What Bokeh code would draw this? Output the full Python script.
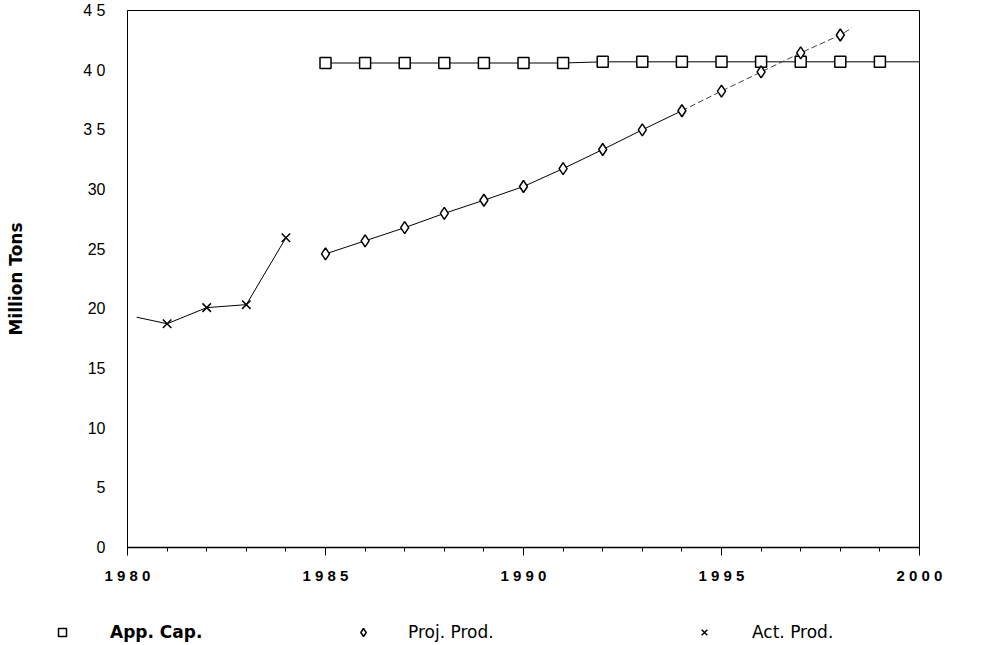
from bokeh.plotting import figure
from bokeh.layouts import column
from bokeh.models import Legend, LegendItem, FixedTicker, Range1d
from bokeh.embed import file_html
from bokeh.resources import INLINE

# ---- data ----
series_names = ["App. Cap.", "Proj. Prod.", "Act. Prod."]

cap_years = [1985, 1986, 1987, 1988, 1989, 1990, 1991, 1992, 1993, 1994,
             1995, 1996, 1997, 1998, 1999, 2000]
cap_vals = [40.6, 40.6, 40.6, 40.6, 40.6, 40.6, 40.6, 40.7, 40.7, 40.7,
            40.7, 40.7, 40.7, 40.7, 40.7, 40.7]

proj_years = [1985, 1986, 1987, 1988, 1989, 1990, 1991, 1992, 1993, 1994,
              1995, 1996, 1997, 1998]
proj_vals = [24.6, 25.7, 26.8, 28.0, 29.1, 30.25, 31.75, 33.35, 35.0, 36.6,
             38.25, 39.85, 41.45, 42.95]
proj_tail_year = 1998.3
proj_tail_val = 43.55

act_years = [1980.23, 1981, 1982, 1983, 1984]
act_vals = [19.3, 18.75, 20.1, 20.35, 25.95]

y_ticks = [0, 5, 10, 15, 20, 25, 30, 35, 40, 45]
y_tick_labels = ["0", "5", "10", "15", "20", "25", "30", "3 5", "4 0", "4 5"]
x_ticks = [1980, 1985, 1990, 1995, 2000]
x_tick_labels = ["1 9 8 0", "1 9 8 5", "1 9 9 0", "1 9 9 5", "2 0 0 0"]
y_title = "Million Tons"

W = 985

# ---- main figure ----
p = figure(width=W, height=598, output_backend="svg", toolbar_location=None,
           x_range=Range1d(x_ticks[0], x_ticks[-1]), y_range=Range1d(y_ticks[0], y_ticks[-1]),
           min_border_left=127, min_border_right=W - 919, min_border_top=10, min_border_bottom=51)
p.frame_align = False
p.background_fill_color = "white"
p.border_fill_color = "white"
p.outline_line_color = "black"
p.outline_line_width = 1
p.outline_line_alpha = 1
p.xgrid.visible = False
p.ygrid.visible = False

# y axis
p.yaxis.ticker = FixedTicker(ticks=y_ticks)
p.yaxis.major_label_overrides = {t: l for t, l in zip(y_ticks, y_tick_labels)}
p.yaxis.major_tick_out = 0
p.yaxis.major_tick_in = 0
p.yaxis.minor_tick_out = 0
p.yaxis.minor_tick_in = 0
p.yaxis.major_label_standoff = 22
p.yaxis.major_label_text_font = "Liberation Sans"
p.yaxis.major_label_text_font_size = "16px"
p.yaxis.major_label_text_color = "black"
p.yaxis.axis_line_color = "black"
p.yaxis.axis_label = y_title
p.yaxis.axis_label_text_font = "DejaVu Sans"
p.yaxis.axis_label_text_font_style = "bold"
p.yaxis.axis_label_text_font_size = "17px"
p.yaxis.axis_label_text_color = "black"
p.yaxis.axis_label_standoff = 54

# x axis
p.xaxis.ticker = FixedTicker(ticks=x_ticks, minor_ticks=list(range(x_ticks[0], x_ticks[-1] + 1)))
p.xaxis.major_label_overrides = {t: l for t, l in zip(x_ticks, x_tick_labels)}
p.xaxis.major_tick_out = 8
p.xaxis.major_tick_in = 0
p.xaxis.minor_tick_out = 4
p.xaxis.minor_tick_in = 0
p.xaxis.major_tick_line_color = "black"
p.xaxis.minor_tick_line_color = "black"
p.xaxis.axis_line_color = "black"
p.xaxis.axis_line_width = 1.5
p.xaxis.major_label_standoff = 11
p.xaxis.major_label_text_font = "Liberation Sans"
p.xaxis.major_label_text_font_style = "bold"
p.xaxis.major_label_text_font_size = "15px"
p.xaxis.major_label_text_color = "black"

# ---- series ----
mk = dict(fill_color="white", line_color="black", line_width=1.5)

# App. Cap.
p.line(cap_years, cap_vals, line_color="black", line_width=1)
p.scatter(cap_years[:-1], cap_vals[:-1], marker="square", size=11, **mk)

# Proj. Prod. (solid, then dashed projection)
p.line(proj_years[:10], proj_vals[:10], line_color="black", line_width=1)
p.line(proj_years[9:] + [proj_tail_year], proj_vals[9:] + [proj_tail_val],
       line_color="#444444", line_width=1, line_dash="6 3")
p.scatter(proj_years, proj_vals, marker="diamond", size=12, **mk)

# Act. Prod.
p.line(act_years, act_vals, line_color="black", line_width=1)
p.scatter(act_years[1:], act_vals[1:], marker="x", size=12, line_color="black", line_width=1.5)

# ---- legend strip (its own frame spans the full width) ----
p2 = figure(width=W, height=45, output_backend="svg", toolbar_location=None,
            x_axis_location=None, y_axis_location=None,
            x_range=Range1d(0, 1), y_range=Range1d(0, 1),
            min_border_left=0, min_border_right=0, min_border_top=0, min_border_bottom=0)
p2.frame_align = False
p2.outline_line_color = None
p2.grid.visible = False
p2.background_fill_color = "white"
p2.border_fill_color = "white"

# the series again, out of this strip's view, only to give the legend its glyphs
lr_cap = p2.scatter(cap_years[:-1], cap_vals[:-1], marker="square", size=11, **mk)
lr_proj = p2.scatter(proj_years, proj_vals, marker="diamond", size=12, **mk)
lr_act = p2.scatter(act_years[1:], act_vals[1:], marker="x", size=12,
                    line_color="black", line_width=1.5)


def make_legend(label, renderer, loc, standoff, style):
    lg = Legend(items=[LegendItem(label=label, renderers=[renderer])],
                location=loc, orientation="horizontal",
                padding=0, margin=0, spacing=0,
                border_line_color=None, background_fill_alpha=0,
                glyph_width=20, glyph_height=20, label_height=20,
                label_standoff=standoff,
                label_text_font="DejaVu Sans", label_text_font_size="17px",
                label_text_font_style=style, label_text_color="black")
    p2.add_layout(lg)


make_legend(series_names[0], lr_cap, (52, 1), 38, "bold")
make_legend(series_names[1], lr_proj, (353, 1), 35, "normal")
make_legend(series_names[2], lr_act, (694, 1), 38, "normal")

layout = column(p, p2, spacing=0)
open("out.html", "w").write(file_html(layout, INLINE))
